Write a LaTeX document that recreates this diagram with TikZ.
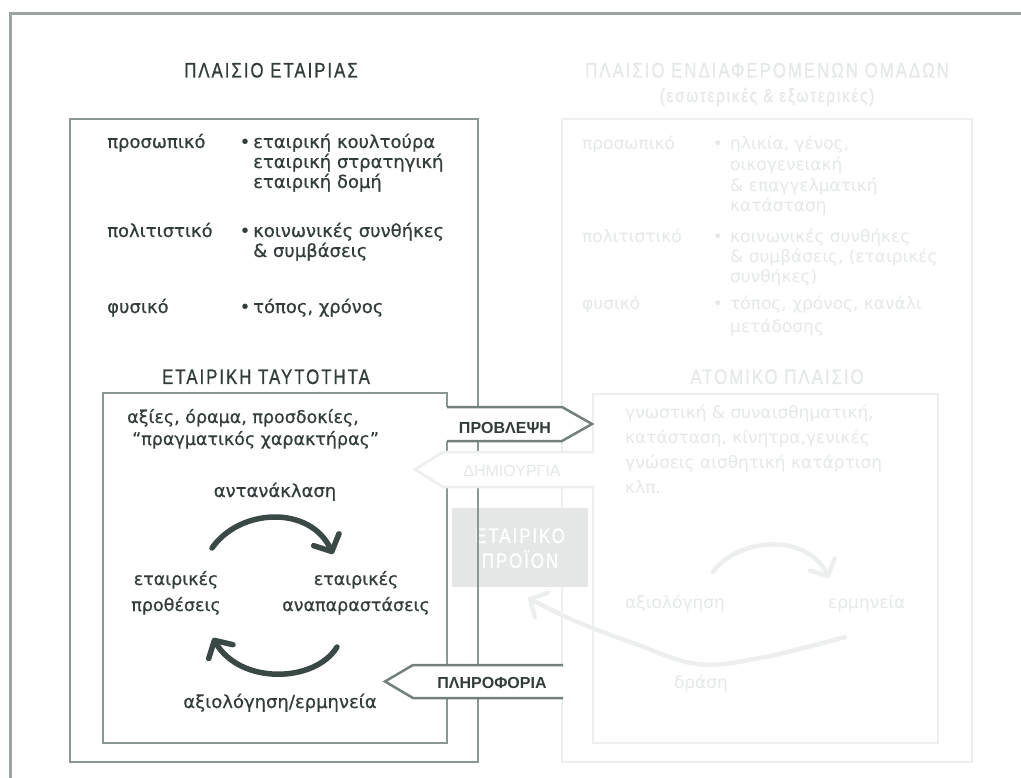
\documentclass[tikz,border=0pt]{standalone}
\usepackage{fontspec}
\setmainfont{DejaVu Sans}
\newfontfamily\bodyfont[FakeBold=0.6]{DejaVu Sans}
\newfontfamily\titlefont[FakeStretch=0.8,LetterSpace=9.5,FakeBold=0.8]{Liberation Sans}
\newfontfamily\lblfont{Liberation Sans}
\usetikzlibrary{arrows.meta}
\definecolor{ink}{HTML}{323C3B}
\definecolor{boxgrey}{HTML}{8C9794}
\definecolor{arrowgrey}{HTML}{74807E}
\definecolor{framegrey}{HTML}{9AA5A2}
\definecolor{faintline}{HTML}{ECEFEE}
\definecolor{fainttext}{HTML}{E4E8E7}
\definecolor{prodfill}{HTML}{E4E7E6}
\definecolor{arcink}{HTML}{3A4846}
\begin{document}
\begin{tikzpicture}[x=1pt,y=-1pt,
  outerframe/.style={draw=framegrey,line width=3pt},
  boxline/.style={draw=boxgrey,line width=2.5pt},
  faintbox/.style={draw=faintline,line width=2.5pt},
  arrowline/.style={draw=arrowgrey,line width=2.5pt,line join=miter},
  body/.style={font=\bodyfont\fontsize{18}{20}\selectfont,text=ink,inner sep=0pt,anchor=base west,align=left},
  fbody/.style={font=\fontsize{17}{20}\selectfont,text=fainttext,inner sep=0pt,anchor=base west,align=left},
  ctext/.style={body,anchor=base,align=center},
  ttl/.style={font=\titlefont\fontsize{21}{24}\selectfont,text=ink,inner sep=0pt,anchor=base},
  fttl/.style={ttl,text=fainttext},
  lbl/.style={font=\lblfont\bfseries\fontsize{16}{18}\selectfont,text=ink,inner sep=0pt,anchor=base},
  darkarc/.style={draw=arcink,line width=5.5pt,line cap=round,-{Straight Barb[length=13pt,width=28pt,round]}},
  faintarc/.style={draw=faintline,line width=4.5pt,line cap=round,-{Straight Barb[length=13pt,width=28pt,round]}}
]
\useasboundingbox (0,0) rectangle (1021,778);
% outer frame
\coordinate (fa) at (10,778);
\coordinate (fb) at (10,13.5);
\coordinate (fc) at (1021,13.5);
\draw[outerframe] (fa) -- (fb) -- (fc);

% ---------- faint right side ----------
\draw[faintbox] (562,119) rectangle (972,762);
\draw[faintbox] (593,394) rectangle (938,743);
\node[fttl] (stkT) at (767,77.5) {ΠΛΑΙΣΙΟ ΕΝΔΙΑΦΕΡΟΜΕΝΩΝ ΟΜΑΔΩΝ};
\node[fttl,font=\titlefont\fontsize{19}{22}\selectfont] (stkS) at (767,102) {(εσωτερικές \& εξωτερικές)};
% multi-line nodes: base = baseline of the last line
\node[fbody] (sPers) at (582,150) {προσωπικό};
\node[fbody,anchor=base] (sB1) at (718,150) {•};
\node[fbody,font=\fontsize{17}{20.7}\selectfont] (sPersT) at (730,212) {ηλικία, γένος,\\οικογενειακή\\\& επαγγελματική\\κατάσταση};
\node[fbody] (sCult) at (582,243) {πολιτιστικό};
\node[fbody,anchor=base] (sB2) at (718,243) {•};
\node[fbody] (sCultT) at (730,283) {κοινωνικές συνθήκες\\\& συμβάσεις, (εταιρικές\\συνθήκες)};
\node[fbody] (sPhys) at (582,310) {φυσικό};
\node[fbody,anchor=base] (sB3) at (718,310) {•};
\node[fbody,font=\fontsize{17}{23}\selectfont] (sPhysT) at (730,333) {τόπος, χρόνος, κανάλι\\μετάδοσης};
\node[fttl] (indT) at (777,384) {ΑΤΟΜΙΚΟ ΠΛΑΙΣΙΟ};
\node[fbody,font=\fontsize{17}{25}\selectfont] (indX) at (625,493) {γνωστική \& συναισθηματική,\\κατάσταση, κίνητρα,γενικές\\γνώσεις αισθητική κατάρτιση\\κλπ.};
\node[fbody] (eval) at (625,608) {αξιολόγηση};
\node[fbody] (interp) at (828,608) {ερμηνεία};
\node[fbody,anchor=base] (act) at (701,688) {δράση};
\draw[faintarc] (713,572) .. controls (735,540) and (805,530) .. (829,578);
\draw[faintarc] plot[smooth,tension=0.6] coordinates {(845,637) (760,658) (697,664) (633,643) (575,621) (528,598)};

% ---------- product ----------
\fill[prodfill] (452,508) rectangle (588,587);
\node[ttl,text=white] (prod1) at (520,543) {ΕΤΑΙΡΙΚΟ};
\node[ttl,text=white] (prod2) at (520,568) {ΠΡΟΪΟΝ};

% ---------- company boxes ----------
\draw[boxline] (70,119) rectangle (478,762);
\draw[boxline] (103,393) rectangle (447,743);

% ---------- connector arrows ----------
\fill[white] (595,452) -- (443,452) -- (415,469.5) -- (443,487) -- (595,487) -- cycle;
\draw[faintbox] (594,452) -- (443,452) -- (415,469.5) -- (443,487) -- (594,487);
\node[lbl,font=\lblfont\fontsize{16}{18}\selectfont,text=fainttext] (create) at (512,476) {ΔΗΜΙΟΥΡΓΙΑ};

\fill[white] (444.5,407) -- (562,407) -- (592,424) -- (562,441) -- (444.5,441) -- cycle;
\draw[arrowline] (447,407) -- (562,407) -- (592,424) -- (562,441) -- (447,441);
\node[lbl] (pred) at (505,433) {ΠΡΟΒΛΕΨΗ};

\fill[white] (564,665) -- (413,665) -- (385,681.5) -- (413,698) -- (564,698) -- cycle;
\draw[arrowline] (563,665) -- (413,665) -- (385,681.5) -- (413,698) -- (563,698);
\node[lbl] (info) at (492,688) {ΠΛΗΡΟΦΟΡΙΑ};

% ---------- company texts ----------
\node[ttl] (compT) at (271,77.5) {ΠΛΑΙΣΙΟ ΕΤΑΙΡΙΑΣ};
\node[body] (cPers) at (107,148) {προσωπικό};
\node[body,anchor=base] (cB1) at (245,148) {•};
\node[body] (cPersT) at (253,188) {εταιρική κουλτούρα\\εταιρική στρατηγική\\εταιρική δομή};
\node[body] (cCult) at (107,237) {πολιτιστικό};
\node[body,anchor=base] (cB2) at (245,237) {•};
\node[body] (cCultT) at (253,257) {κοινωνικές συνθήκες\\\& συμβάσεις};
\node[body] (cPhys) at (107,313) {φυσικό};
\node[body,anchor=base] (cB3) at (245,313) {•};
\node[body] (cPhysT) at (253,313) {τόπος, χρόνος};

\node[ttl] (idT) at (266,384) {ΕΤΑΙΡΙΚΗ ΤΑΥΤΟΤΗΤΑ};
\node[body,font=\bodyfont\fontsize{17.5}{22}\selectfont] (idX) at (127,445) {αξίες, όραμα, προσδοκίες,\\\hspace*{5pt}“πραγματικός χαρακτήρας”};
\node[ctext] (refl) at (275,497) {αντανάκλαση};
\node[ctext,font=\bodyfont\fontsize{17.5}{26}\selectfont] (intent) at (176,611) {εταιρικές\\προθέσεις};
\node[ctext,font=\bodyfont\fontsize{17.5}{26}\selectfont] (repr) at (356,611) {εταιρικές\\αναπαραστάσεις};
\node[ctext] (evint) at (280,708) {αξιολόγηση/ερμηνεία};

\draw[darkarc] (212,548) .. controls (240,508) and (310,505) .. (333,554);
\draw[darkarc] (337,647) .. controls (315,683) and (240,685) .. (213,638);
\end{tikzpicture}
\end{document}
